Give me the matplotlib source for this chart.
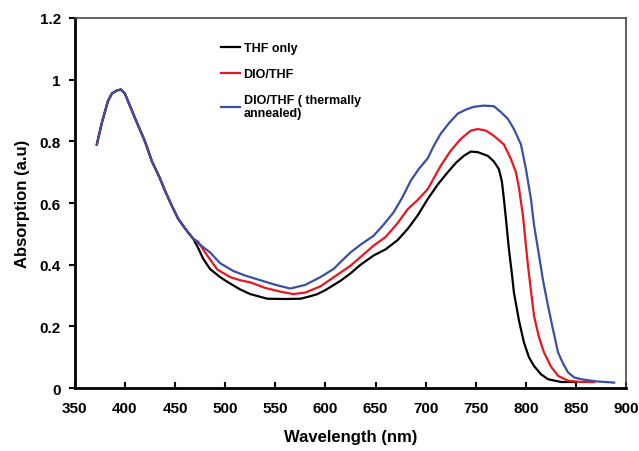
import matplotlib.pyplot as plt
from matplotlib.ticker import FuncFormatter

# shared short-wavelength part (all three curves overlap here)
wl_common = [372, 377, 383, 387, 392, 396, 400, 410, 420, 427, 435, 440, 447, 453, 458, 463, 468]
abs_common = [0.79, 0.86, 0.93, 0.955, 0.965, 0.968, 0.955, 0.876, 0.80, 0.735, 0.68, 0.64,
              0.59, 0.55, 0.527, 0.505, 0.485]

wl_thf = [473, 478, 485, 495, 502, 515, 525, 542, 560, 575, 585, 592, 600, 615, 625, 635, 648,
          660, 672, 682, 692, 702, 712, 722, 730, 738, 745, 752, 762, 768, 773, 776, 778, 780,
          783, 786, 788, 793, 798, 803, 808, 815, 822, 835, 850]
abs_thf = [0.455, 0.42, 0.386, 0.36, 0.345, 0.32, 0.305, 0.29, 0.289, 0.29, 0.298, 0.305, 0.318,
           0.348, 0.372, 0.40, 0.43, 0.45, 0.48, 0.516, 0.56, 0.613, 0.66, 0.70, 0.73, 0.753,
           0.767, 0.765, 0.753, 0.735, 0.71, 0.67, 0.613, 0.55, 0.451, 0.37, 0.31, 0.22, 0.148,
           0.10, 0.072, 0.045, 0.029, 0.02, 0.02]

wl_dio = [473, 480, 492, 505, 515, 525, 540, 555, 568, 580, 595, 608, 625, 635, 648, 660, 672,
          682, 692, 702, 715, 725, 735, 745, 752, 760, 768, 778, 785, 790, 793, 797, 802, 808,
          813, 818, 825, 832, 842, 855, 868]
abs_dio = [0.475, 0.44, 0.385, 0.36, 0.35, 0.343, 0.325, 0.313, 0.305, 0.31, 0.33, 0.359, 0.397,
           0.425, 0.462, 0.49, 0.535, 0.58, 0.61, 0.645, 0.721, 0.77, 0.808, 0.835, 0.84, 0.835,
           0.818, 0.79, 0.743, 0.70, 0.65, 0.559, 0.397, 0.235, 0.165, 0.116, 0.07, 0.04, 0.024,
           0.02, 0.02]

wl_ann = [473, 485, 495, 508, 520, 535, 550, 565, 580, 595, 608, 617, 625, 635, 648, 658, 668,
          677, 685, 693, 702, 708, 715, 724, 732, 740, 748, 758, 768, 775, 782, 788, 795, 800,
          805, 808, 812, 817, 822, 827, 832, 837, 842, 848, 855, 870, 888]
abs_ann = [0.47, 0.44, 0.405, 0.38, 0.365, 0.35, 0.335, 0.323, 0.335, 0.36, 0.386, 0.415, 0.44,
           0.465, 0.494, 0.53, 0.57, 0.62, 0.672, 0.71, 0.745, 0.785, 0.825, 0.862, 0.89, 0.903,
           0.912, 0.916, 0.914, 0.895, 0.873, 0.84, 0.79, 0.71, 0.613, 0.53, 0.451, 0.35, 0.267,
           0.19, 0.116, 0.08, 0.051, 0.035, 0.029, 0.022, 0.018]

labels = ['THF only', 'DIO/THF', 'DIO/THF ( thermally\nannealed)']
colors = ['black', '#e8161e', '#3a4fa3']

plt.rcParams['font.family'] = 'Liberation Sans'
plt.rcParams['font.weight'] = 'bold'

fig = plt.figure(figsize=(6.39, 4.52), dpi=100)
ax = fig.add_axes([0.117, 0.139, 0.863, 0.819])

series = [(wl_thf, abs_thf), (wl_dio, abs_dio), (wl_ann, abs_ann)]
for (wl, ab), lab, c in zip(series, labels, colors):
    ax.plot(wl_common + wl, abs_common + ab, color=c, lw=1.6, label=lab)

ax.set_xlim(350, 900)
ax.set_ylim(0, 1.2)
ax.set_xticks(range(350, 901, 50))
ax.set_yticks([0, 0.2, 0.4, 0.6, 0.8, 1.0, 1.2])
ax.yaxis.set_major_formatter(FuncFormatter(lambda v, p: '%g' % round(v, 1)))
ax.tick_params(axis='x', direction='in', length=4, width=1.5, labelsize=11, pad=9)
ax.tick_params(axis='y', direction='out', length=4, width=1.5, labelsize=11, pad=6)
for lbl in ax.get_xticklabels() + ax.get_yticklabels():
    lbl.set_fontweight('bold')
ax.spines['left'].set_linewidth(2)
ax.spines['bottom'].set_linewidth(2)
ax.spines['top'].set_linewidth(1.2)
ax.spines['right'].set_linewidth(1.2)
ax.spines['top'].set_color('#444444')
ax.spines['right'].set_color('#444444')

ax.set_xlabel('Wavelength (nm)', fontsize=12, fontweight='bold', labelpad=10)
ax.set_ylabel('Absorption (a.u)', fontsize=12, fontweight='bold', labelpad=7)

leg = ax.legend(loc='upper left', bbox_to_anchor=(0.245, 0.965), frameon=False,
                handlelength=1.5, handletextpad=0.3, labelspacing=1.1,
                prop={'size': 9, 'weight': 'bold'})

fig.savefig('out.png', dpi=100)
